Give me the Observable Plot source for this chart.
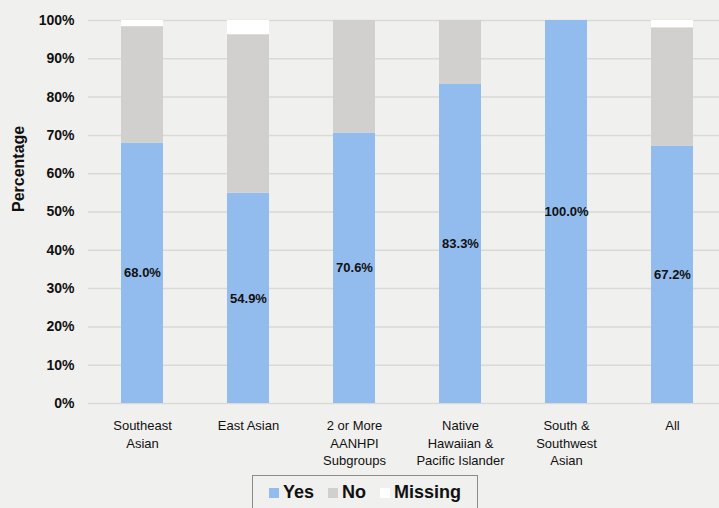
<!DOCTYPE html>
<html><head><meta charset="utf-8">
<script src="https://cdn.jsdelivr.net/npm/d3@7"></script>
<script src="https://cdn.jsdelivr.net/npm/@observablehq/plot@0.6"></script>
<style>
html,body{margin:0;padding:0;background:#f0f0ee;overflow:hidden;}
#legend{position:absolute;left:252px;top:475px;width:226px;height:34px;box-sizing:border-box;border:1px solid #8c8c8c;border-bottom:none;display:flex;align-items:center;justify-content:center;gap:14px;font-family:"Liberation Sans Narrow","Liberation Sans",Arial,sans-serif;font-weight:bold;font-size:18px;color:#111;}
#legend span.sw{display:inline-block;width:10px;height:10px;margin-right:4px;vertical-align:middle;}
</style>
</head><body>
<div id="chart"></div>
<div id="legend"></div>
<script>
const categories = ["Southeast\nAsian","East Asian","2 or More\nAANHPI\nSubgroups","Native\nHawaiian &\nPacific Islander","South &\nSouthwest\nAsian","All"];
const yesValues = [68.0, 54.9, 70.6, 83.3, 100.0, 67.2];
const noValues = [30.4, 41.4, 29.4, 16.7, 0.0, 30.9];
const missingValues = [1.6, 3.7, 0.0, 0.0, 0.0, 1.9];
const seriesNames = ["Yes","No","Missing"];
const seriesColors = ["#93bcee","#d2d0ce","#ffffff"];
const yTicks = [0,10,20,30,40,50,60,70,80,90,100];

const rows = [];
categories.forEach((c,i)=>{
  rows.push({cat:c, series:"Yes", value:yesValues[i]});
  rows.push({cat:c, series:"No", value:noValues[i]});
  rows.push({cat:c, series:"Missing", value:missingValues[i]});
});
const labels = categories.map((c,i)=>({cat:c, y:yesValues[i]/2, text:yesValues[i].toFixed(1)+"%"}));

const font = '"Liberation Sans Narrow","Liberation Sans",Arial,sans-serif';
const chart = Plot.plot({
  width:719, height:470,
  marginLeft:88, marginRight:-8, marginTop:20, marginBottom:67,
  style:{background:"#f0f0ee", fontFamily:font, color:"#111", overflow:"visible"},
  x:{domain:categories, paddingInner:0.6, paddingOuter:0.3, label:null},
  y:{domain:[0,100], label:null},
  color:{domain:seriesNames, range:seriesColors},
  marks:[
    Plot.ruleY(yTicks,{stroke:"#d9d9d7", strokeWidth:1.5}),
    Plot.barY(rows, Plot.stackY({x:"cat", y:"value", fill:"series", order:seriesNames})),
    Plot.text(labels,{x:"cat", y:"y", text:"text", fontWeight:"bold", fontSize:13, fill:"#111"}),
    Plot.axisY({ticks:yTicks, tickFormat:d=>d+"%", tickSize:0, tickPadding:14, fontSize:14, fontWeight:"bold", label:null}),
    Plot.axisX({tickSize:0, tickPadding:14, fontSize:13, lineHeight:1.35, label:null, textAnchor:"middle"}),
    Plot.text(["Percentage"],{frameAnchor:"left", dx:-70, rotate:-90, fontSize:16, fontWeight:"bold", fill:"#111"})
  ]
});
document.getElementById("chart").appendChild(chart);
const lg = document.getElementById("legend");
seriesNames.forEach((s,i)=>{
  const d=document.createElement("div");
  d.innerHTML=`<span class="sw" style="background:${seriesColors[i]}"></span>${s}`;
  lg.appendChild(d);
});
</script>
</body></html>
